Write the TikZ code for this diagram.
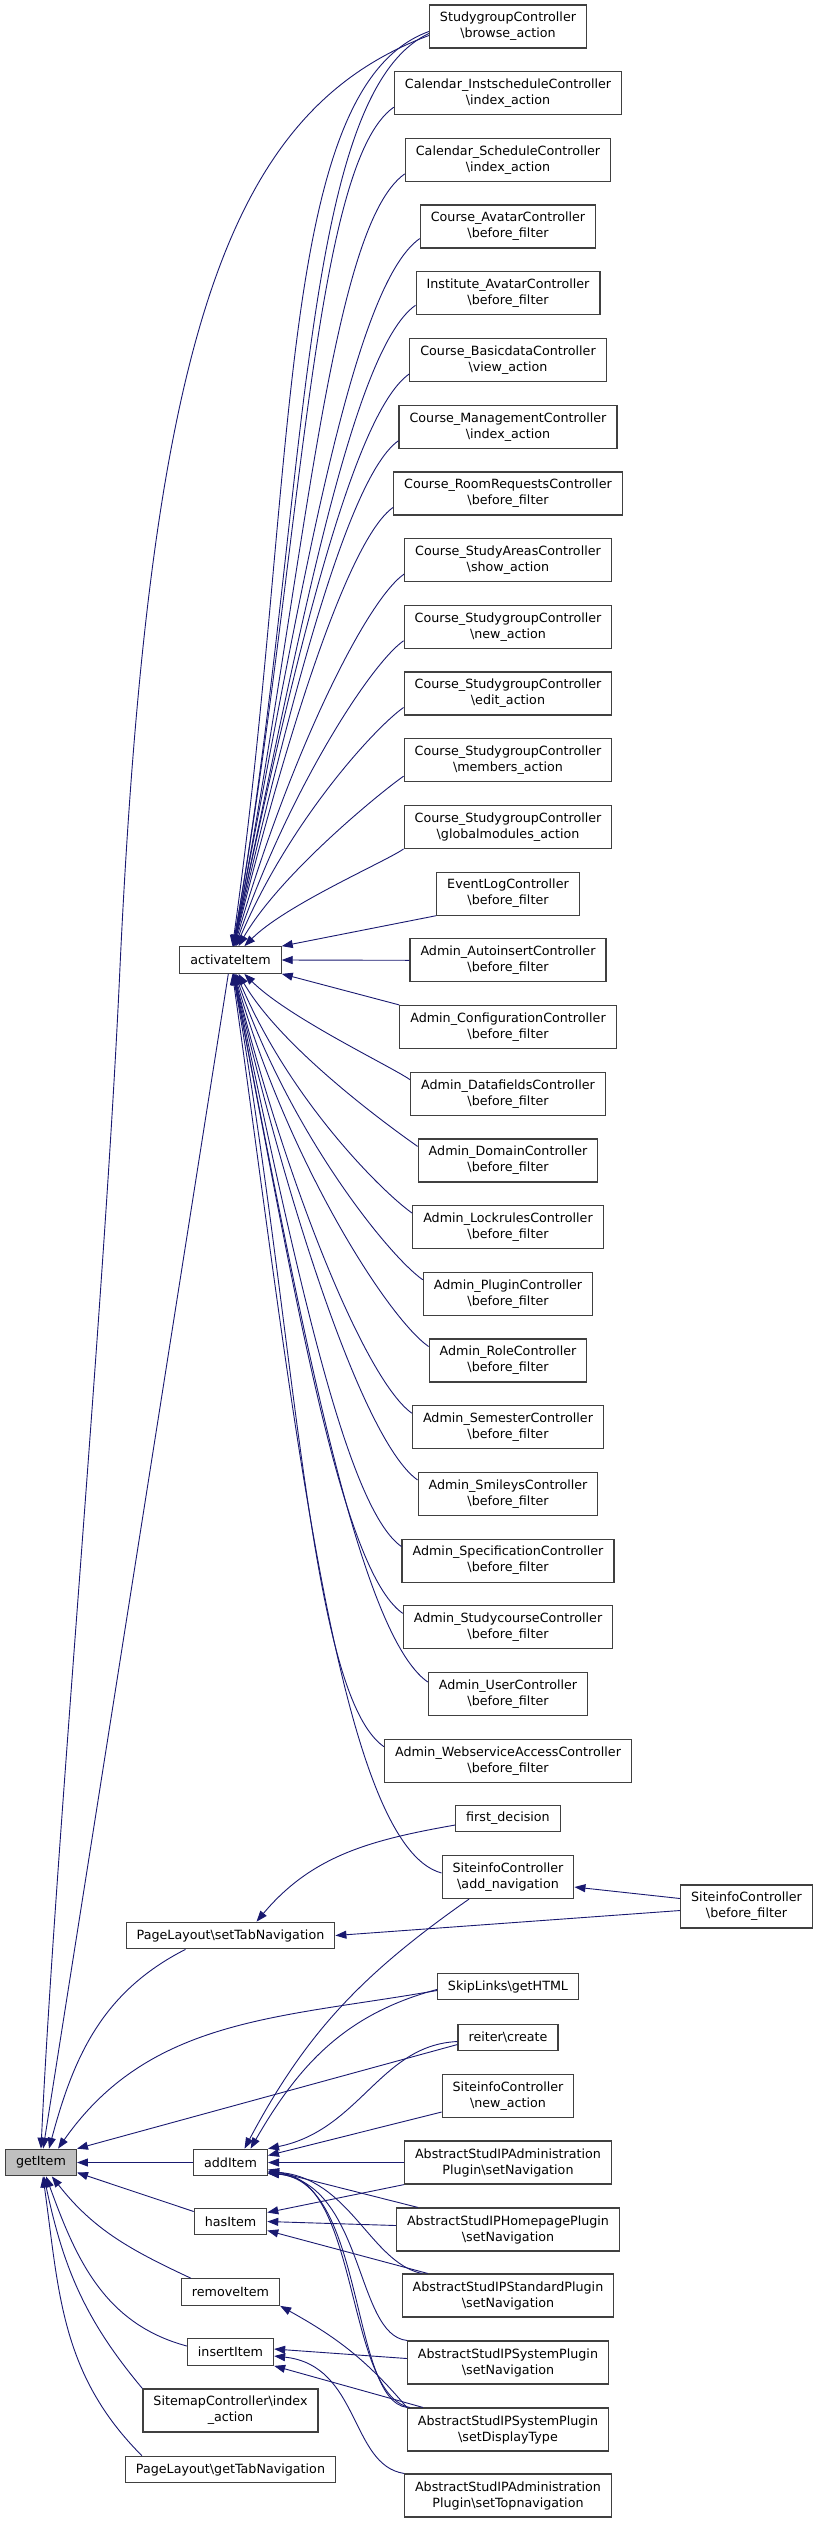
\documentclass[tikz,border=0pt]{standalone}
\usepackage{fontspec}
\setmainfont{DejaVu Sans}
\usepackage{tikz}
\usetikzlibrary{arrows.meta}
\definecolor{edgeblue}{RGB}{25,25,112}
\definecolor{boxline}{RGB}{64,64,64}
\definecolor{boxfill}{RGB}{191,191,191}
\newcommand{\bsl}{\textbackslash}
\newcommand{\nodefont}{\fontsize{12.7}{16}\selectfont}

\begin{document}
\begin{tikzpicture}[x=1pt, y=1pt,
  fn/.style={draw=boxline, line width=1.2pt, fill=white, align=center, font=\nodefont, inner xsep=10.5pt, inner ysep=0pt, minimum height=26.5pt},
  fn2/.style={fn, minimum height=43pt},
  call/.style={draw=edgeblue, line width=0.9pt, -{Triangle[length=11pt,width=8pt]}},
  upcall/.style={out=215, in=#1, out looseness=0.3, in looseness=1.2},
  downcall/.style={out=145, in=#1, out looseness=0.3, in looseness=1.2}]
  \useasboundingbox (0,0) rectangle (819,-2523);

  \node[fn2] (sgbrowse) at (508,-26.5) {StudygroupController\\\bsl browse\_action};
  \node[fn2] (calinst) at (508,-93.2) {Calendar\_InstscheduleController\\\bsl index\_action};
  \node[fn2] (calsched) at (508,-159.9) {Calendar\_ScheduleController\\\bsl index\_action};
  \node[fn2] (cavatar) at (508,-226.6) {Course\_AvatarController\\\bsl before\_filter};
  \node[fn2] (iavatar) at (508,-293.3) {Institute\_AvatarController\\\bsl before\_filter};
  \node[fn2] (cbasic) at (508,-360) {Course\_BasicdataController\\\bsl view\_action};
  \node[fn2] (cmanage) at (508,-426.7) {Course\_ManagementController\\\bsl index\_action};
  \node[fn2] (croom) at (508,-493.4) {Course\_RoomRequestsController\\\bsl before\_filter};
  \node[fn2] (careas) at (508,-560.1) {Course\_StudyAreasController\\\bsl show\_action};
  \node[fn2] (sgnew) at (508,-626.8) {Course\_StudygroupController\\\bsl new\_action};
  \node[fn2] (sgedit) at (508,-693.5) {Course\_StudygroupController\\\bsl edit\_action};
  \node[fn2] (sgmembers) at (508,-760.2) {Course\_StudygroupController\\\bsl members\_action};
  \node[fn2] (sgmodules) at (508,-826.9) {Course\_StudygroupController\\\bsl globalmodules\_action};
  \node[fn2] (eventlog) at (508,-893.6) {EventLogController\\\bsl before\_filter};
  \node[fn2] (aautoins) at (508,-960.3) {Admin\_AutoinsertController\\\bsl before\_filter};
  \node[fn2] (aconfig) at (508,-1027) {Admin\_ConfigurationController\\\bsl before\_filter};
  \node[fn2] (adatafld) at (508,-1093.7) {Admin\_DatafieldsController\\\bsl before\_filter};
  \node[fn2] (adomain) at (508,-1160.4) {Admin\_DomainController\\\bsl before\_filter};
  \node[fn2] (alockrul) at (508,-1227.1) {Admin\_LockrulesController\\\bsl before\_filter};
  \node[fn2] (aplugin) at (508,-1293.8) {Admin\_PluginController\\\bsl before\_filter};
  \node[fn2] (arole) at (508,-1360.5) {Admin\_RoleController\\\bsl before\_filter};
  \node[fn2] (asemester) at (508,-1427.2) {Admin\_SemesterController\\\bsl before\_filter};
  \node[fn2] (asmileys) at (508,-1493.9) {Admin\_SmileysController\\\bsl before\_filter};
  \node[fn2] (aspecif) at (508,-1560.6) {Admin\_SpecificationController\\\bsl before\_filter};
  \node[fn2] (astudyc) at (508,-1627.3) {Admin\_StudycourseController\\\bsl before\_filter};
  \node[fn2] (auser) at (508,-1694) {Admin\_UserController\\\bsl before\_filter};
  \node[fn2] (awebserv) at (508,-1760.7) {Admin\_WebserviceAccessController\\\bsl before\_filter};

  \node[fn] (fdecision) at (508,-1818.5) {first\_decision};
  \node[fn2] (siaddnav) at (508,-1877) {SiteinfoController\\\bsl add\_navigation};
  \node[fn2] (sibefore) at (746.5,-1906.5) {SiteinfoController\\\bsl before\_filter};
  \node[fn] (skiplinks) at (508,-1986.5) {SkipLinks\bsl getHTML};
  \node[fn] (reiter) at (508,-2037.5) {reiter\bsl create};
  \node[fn2] (sinewact) at (508,-2096) {SiteinfoController\\\bsl new\_action};
  \node[fn2] (sapadmnav) at (508,-2162.5) {AbstractStudIPAdministration\\Plugin\bsl setNavigation};
  \node[fn2] (saphomenav) at (508,-2229.5) {AbstractStudIPHomepagePlugin\\\bsl setNavigation};
  \node[fn2] (sapstdnav) at (508,-2295.5) {AbstractStudIPStandardPlugin\\\bsl setNavigation};
  \node[fn2] (sapsysnav) at (508,-2362.5) {AbstractStudIPSystemPlugin\\\bsl setNavigation};
  \node[fn2] (sapsysdisp) at (508,-2429.5) {AbstractStudIPSystemPlugin\\\bsl setDisplayType};
  \node[fn2] (sapadmtop) at (508,-2495.5) {AbstractStudIPAdministration\\Plugin\bsl setTopnavigation};

  \node[fn] (activate) at (230.5,-960) {activateItem};
  \node[fn] (plsettab) at (230.5,-1935.5) {PageLayout\bsl setTabNavigation};
  \node[fn, fill=boxfill] (getitem) at (41,-2162.5) {getItem};
  \node[fn] (additem) at (230.5,-2162.5) {addItem};
  \node[fn] (hasitem) at (230.5,-2221.5) {hasItem};
  \node[fn] (removeitem) at (230.5,-2292) {removeItem};
  \node[fn] (insertitem) at (230.5,-2352) {insertItem};
  \node[fn2] (sitemap) at (230.5,-2410.5) {SitemapController\bsl index\\\_action};
  \node[fn] (plgettab) at (230.5,-2469.5) {PageLayout\bsl getTabNavigation};

  \draw[call] ([yshift=-7pt]sgbrowse.west) to[upcall=80, out=205, out looseness=0.4] (activate);
  \draw[call] ([yshift=-5pt]sgbrowse.west) to[upcall=82, out=200, out looseness=0.45, in looseness=1.3] (activate);
  \draw[call] ([yshift=-14pt]calinst.west) to[upcall=80] (activate);
  \draw[call] ([yshift=-14pt]calsched.west) to[upcall=79] (activate);
  \draw[call] ([yshift=-12pt]cavatar.west) to[upcall=79] (activate);
  \draw[call] ([yshift=-12pt]iavatar.west) to[upcall=78] (activate);
  \draw[call] ([yshift=-14pt]cbasic.west) to[upcall=78] (activate);
  \draw[call] ([yshift=-14pt]cmanage.west) to[upcall=77] (activate);
  \draw[call] ([yshift=-14pt]croom.west) to[upcall=76] (activate);
  \draw[call] ([yshift=-14pt]careas.west) to[upcall=74] (activate);
  \draw[call] ([yshift=-14pt]sgnew.west) to[upcall=71] (activate);
  \draw[call] ([yshift=-14pt]sgedit.west) to[upcall=67] (activate);
  \draw[call] ([yshift=-16pt]sgmembers.west) to[upcall=60, in looseness=0.9] (activate);
  \draw[call] (sgmodules.south west) to[upcall=45, in looseness=0.8] (activate);
  \draw[call] (eventlog.south west) -- (activate.north east);
  \draw[call] (aautoins.west) -- (activate.east);
  \draw[call] (aconfig.north west) -- (activate.south east);
  \draw[call] ([yshift=14pt]adatafld.west) to[downcall=-45, in looseness=0.8] (activate);
  \draw[call] ([yshift=14pt]adomain.west) to[downcall=-60, in looseness=0.9] (activate);
  \draw[call] ([yshift=14pt]alockrul.west) to[downcall=-67] (activate);
  \draw[call] ([yshift=14pt]aplugin.west) to[downcall=-71] (activate);
  \draw[call] ([yshift=14pt]arole.west) to[downcall=-74] (activate);
  \draw[call] ([yshift=14pt]asemester.west) to[downcall=-76] (activate);
  \draw[call] ([yshift=14pt]asmileys.west) to[downcall=-77] (activate);
  \draw[call] ([yshift=14pt]aspecif.west) to[downcall=-78] (activate);
  \draw[call] ([yshift=14pt]astudyc.west) to[downcall=-79] (activate);
  \draw[call] ([yshift=12pt]auser.west) to[downcall=-79] (activate);
  \draw[call] ([yshift=14pt]awebserv.west) to[downcall=-80] (activate);
  \draw[call] ([yshift=4pt]siaddnav.west) to[downcall=-82, out=165] (activate);

  \draw[call] (activate) -- (getitem);
  \draw[call] ([yshift=-9pt]sgbrowse.west) .. controls (230,-110) and (150,-330) .. (120,-967) .. controls (105,-1300) and (55,-1850) .. (getitem.north);
  \draw[call] ([yshift=-6.5pt]fdecision.west) to[out=190, in=50] ([xshift=26pt]plsettab.north);
  \draw[call] ([yshift=8pt]sibefore.west) -- ([yshift=-10pt]siaddnav.east);
  \draw[call] ([yshift=-4pt]sibefore.west) -- (plsettab.east);
  \draw[call] ([xshift=-45pt]plsettab.south) to[out=207, in=75] ([xshift=8pt]getitem.north);
  \draw[call] ([yshift=-4pt]skiplinks.west) to[out=190, in=55] ([xshift=17pt]getitem.north);
  \draw[call] ([yshift=-7pt]reiter.west) -- (getitem.north east);
  \draw[call] ([xshift=-39pt]siaddnav.south) to[out=215, in=62] ([xshift=14pt]additem.north);
  \draw[call] ([yshift=-3pt]skiplinks.west) to[out=195, in=60] ([xshift=20pt]additem.north);
  \draw[call] ([yshift=-4pt]reiter.west) .. controls (380,-2045) and (360,-2130) .. (additem.north east);
  \draw[call] ([yshift=-16pt]sinewact.west) -- ([yshift=7pt]additem.east);
  \draw[call] (sapadmnav.west) -- (additem.east);
  \draw[call] ([xshift=22pt]saphomenav.north west) -- ([yshift=-7pt]additem.east);
  \draw[call] ([xshift=20pt]sapstdnav.north west) .. controls (370,-2262) and (350,-2178) .. ([yshift=-9pt]additem.east);
  \draw[call] (sapsysnav.north west) .. controls (355,-2335) and (365,-2185) .. ([yshift=-10pt]additem.east);
  \draw[call] (sapsysdisp.north west) .. controls (350,-2400) and (365,-2180) .. ([yshift=-11pt]additem.east);
  \draw[call] ([xshift=3pt]sapsysdisp.north west) .. controls (345,-2395) and (360,-2175) .. ([yshift=-11pt]additem.east);
  \draw[call] (sapadmnav.south west) -- ([yshift=9pt]hasitem.east);
  \draw[call] ([yshift=4pt]saphomenav.west) -- (hasitem.east);
  \draw[call] ([xshift=26pt]sapstdnav.north west) -- ([yshift=-9pt]hasitem.east);
  \draw[call] (sapsysdisp.north west) .. controls (366,-2359) and (336,-2337) .. (removeitem.south east);
  \draw[call] ([yshift=4pt]sapsysnav.west) -- ([yshift=3pt]insertitem.east);
  \draw[call] ([xshift=16pt]sapsysdisp.north west) -- (insertitem.south east);
  \draw[call] (sapadmtop.north west) .. controls (350,-2465) and (360,-2365) .. ([yshift=-4pt]insertitem.east);

  \draw[call] (additem) -- (getitem);
  \draw[call] ([yshift=10pt]hasitem.west) -- ([yshift=-10pt]getitem.east);
  \draw[call] ([xshift=10pt]removeitem.north west) to[out=155, in=-52] (getitem);
  \draw[call] ([yshift=6pt]insertitem.west) to[out=165, in=-70] (getitem);
  \draw[call] (sitemap.north west) to[out=130, in=-78] (getitem);
  \draw[call] ([xshift=17pt]plgettab.north west) to[out=135, in=-82] (getitem);
\end{tikzpicture}
\end{document}
